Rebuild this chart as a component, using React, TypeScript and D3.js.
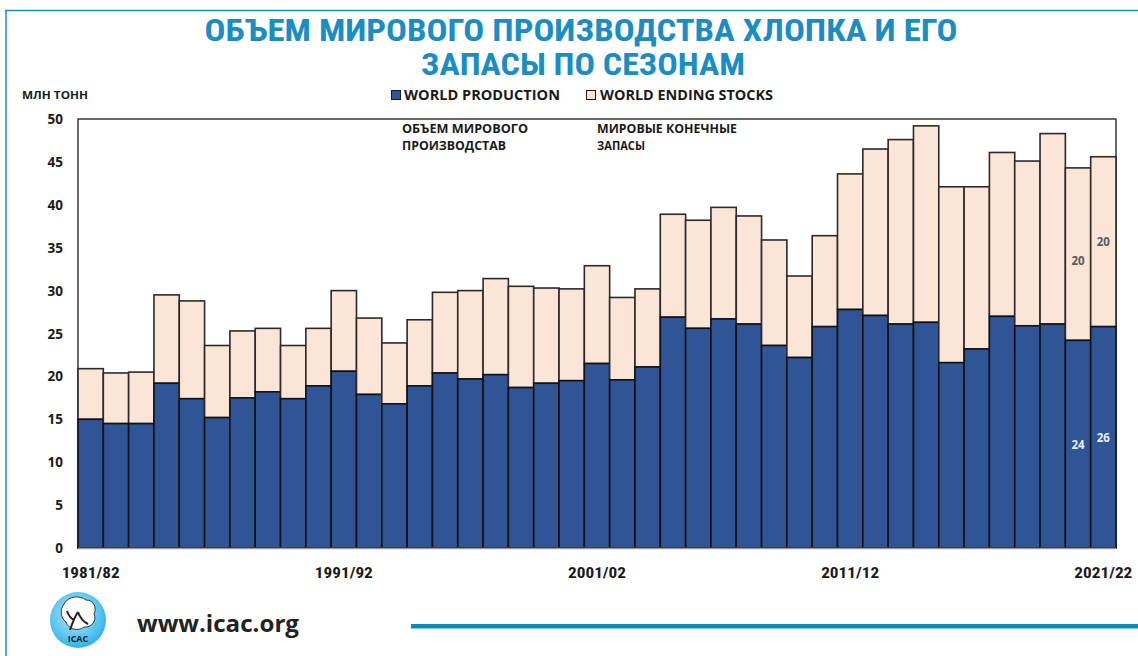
import React from "react";
import * as d3 from "d3";

const seasons: string[] = [
  "1981/82","1982/83","1983/84","1984/85","1985/86","1986/87","1987/88","1988/89","1989/90","1990/91",
  "1991/92","1992/93","1993/94","1994/95","1995/96","1996/97","1997/98","1998/99","1999/00","2000/01",
  "2001/02","2002/03","2003/04","2004/05","2005/06","2006/07","2007/08","2008/09","2009/10","2010/11",
  "2011/12","2012/13","2013/14","2014/15","2015/16","2016/17","2017/18","2018/19","2019/20","2020/21",
  "2021/22",
];

const production: number[] = [
  15.0, 14.5, 14.5, 19.2, 17.4, 15.2, 17.5, 18.2, 17.4, 18.9,
  20.6, 17.9, 16.8, 18.9, 20.4, 19.7, 20.2, 18.7, 19.2, 19.5,
  21.5, 19.6, 21.1, 26.9, 25.6, 26.7, 26.1, 23.6, 22.2, 25.8,
  27.8, 27.1, 26.1, 26.3, 21.6, 23.2, 27.0, 25.9, 26.1, 24.2,
  25.8,
];

const stocks: number[] = [
  5.9, 5.9, 6.0, 10.3, 11.4, 8.4, 7.8, 7.4, 6.2, 6.7,
  9.4, 8.9, 7.1, 7.7, 9.4, 10.3, 11.2, 11.8, 11.1, 10.7,
  11.4, 9.6, 9.1, 12.0, 12.6, 13.0, 12.6, 12.3, 9.5, 10.6,
  15.8, 19.4, 21.5, 22.9, 20.5, 18.9, 19.1, 19.2, 22.2, 20.1,
  19.8,
];

const yTicks: number[] = [0, 5, 10, 15, 20, 25, 30, 35, 40, 45, 50];
const xTickLabels: string[] = ["1981/82", "1991/92", "2001/02", "2011/12", "2021/22"];
const labelledSeasons: string[] = ["2020/21", "2021/22"];
const prodLabels: string[] = ["24", "26"];
const stockLabels: string[] = ["20", "20"];

const titleLines: string[] = ["ОБЪЕМ МИРОВОГО ПРОИЗВОДСТВА ХЛОПКА И ЕГО", "ЗАПАСЫ ПО СЕЗОНАМ"];
const legendLabels: string[] = ["WORLD PRODUCTION", "WORLD ENDING STOCKS"];

const W = 1138;
const H = 656;
const PL = 78, PR = 1116, PT = 119, PB = 548;

const PROD_COLOR = "#2F5597";
const STOCK_COLOR = "#FBE5D6";
const BLUE = "#1A8DC4";
const TXT = "#1a1a1a";
const FONT = "'Open Sans', 'Noto Sans', sans-serif";
const NARROW = "'Liberation Sans Narrow', 'Roboto Condensed', 'Open Sans', sans-serif";

export default function App() {
  const x = d3.scaleBand<string>().domain(seasons).range([PL, PR]).paddingInner(0).paddingOuter(0);
  const y = d3.scaleLinear().domain([0, 50]).range([PB, PT]);
  const bw = x.bandwidth();

  return (
    <svg width={W} height={H} style={{ display: "block", position: "absolute", left: 0, top: 0 }}>
      <defs>
        <radialGradient id="logoGrad" cx="45%" cy="40%" r="60%">
          <stop offset="0%" stopColor="#BFE9FB" />
          <stop offset="70%" stopColor="#5CC6F0" />
          <stop offset="100%" stopColor="#33B2E6" />
        </radialGradient>
      </defs>
      <rect x={0} y={0} width={W} height={H} fill="#fff" />
      {/* frame */}
      <line x1={5} y1={10.5} x2={W} y2={10.5} stroke={BLUE} strokeWidth={1.5} />
      <line x1={6} y1={10} x2={6} y2={H} stroke={BLUE} strokeWidth={1.5} />

      {/* title */}
      <text x={581} y={41} textAnchor="middle" fontFamily={NARROW} fontWeight="bold" fontSize={31} fill={BLUE}
        textLength={753} lengthAdjust="spacingAndGlyphs">{titleLines[0]}</text>
      <text x={583} y={75} textAnchor="middle" fontFamily={NARROW} fontWeight="bold" fontSize={31} fill={BLUE}
        textLength={324} lengthAdjust="spacingAndGlyphs">{titleLines[1]}</text>

      {/* unit */}
      <text x={22} y={99} fontFamily={FONT} fontWeight="bold" fontSize={11} fill={TXT}
        textLength={66} lengthAdjust="spacingAndGlyphs">МЛН ТОНН</text>

      {/* legend */}
      <rect x={391.5} y={90.5} width={9} height={9} fill={PROD_COLOR} stroke={TXT} strokeWidth={1} />
      <text x={404} y={100} fontFamily={FONT} fontWeight="bold" fontSize={14} fill={TXT}
        textLength={156} lengthAdjust="spacingAndGlyphs">{legendLabels[0]}</text>
      <rect x={586.5} y={90.5} width={9} height={9} fill={STOCK_COLOR} stroke={TXT} strokeWidth={1} />
      <text x={600} y={100} fontFamily={FONT} fontWeight="bold" fontSize={14} fill={TXT}
        textLength={173} lengthAdjust="spacingAndGlyphs">{legendLabels[1]}</text>

      {/* plot border */}
      <rect x={PL} y={PT} width={PR - PL} height={PB - PT} fill="none" stroke="#3a3a3a" strokeWidth={1.5} />

      {/* annotations */}
      <text fontFamily={FONT} fontWeight="bold" fontSize={11.5} fill={TXT}>
        <tspan x={402} y={133} textLength={126} lengthAdjust="spacingAndGlyphs">ОБЪЕМ МИРОВОГО</tspan>
        <tspan x={402} y={150} textLength={104} lengthAdjust="spacingAndGlyphs">ПРОИЗВОДСТАВ</tspan>
      </text>
      <text fontFamily={FONT} fontWeight="bold" fontSize={11.5} fill={TXT}>
        <tspan x={597} y={133} textLength={140} lengthAdjust="spacingAndGlyphs">МИРОВЫЕ КОНЕЧНЫЕ</tspan>
        <tspan x={597} y={150} textLength={48} lengthAdjust="spacingAndGlyphs">ЗАПАСЫ</tspan>
      </text>

      {/* bars */}
      {seasons.map((s, i) => {
        const x0 = x(s) as number;
        const p = production[i];
        const st = stocks[i];
        return (
          <g key={s}>
            <rect x={x0} y={y(p + st)} width={bw} height={y(p) - y(p + st)} fill={STOCK_COLOR} stroke="#2a2a2a" strokeWidth={1.6} />
            <rect x={x0} y={y(p)} width={bw} height={y(0) - y(p)} fill={PROD_COLOR} stroke="#111" strokeWidth={1.6} />
          </g>
        );
      })}

      {/* value labels */}
      {labelledSeasons.map((s, k) => {
        const i = seasons.indexOf(s);
        const cx = (x(s) as number) + bw / 2;
        const p = production[i];
        const st = stocks[i];
        return (
          <g key={"lab" + s}>
            <text x={cx} y={y(p + st) + (k === 0 ? 97 : 89)} textAnchor="middle" fontFamily={FONT} fontWeight="bold" fontSize={11.5} fill="#595959">{stockLabels[k]}</text>
            <text x={cx} y={k === 0 ? 449 : 442} textAnchor="middle" fontFamily={FONT} fontWeight="bold" fontSize={11.5} fill="#E8EEF8">{prodLabels[k]}</text>
          </g>
        );
      })}

      {/* x axis baseline */}
      <line x1={PL} y1={PB + 0.5} x2={PR} y2={PB + 0.5} stroke="#9a9a9a" strokeWidth={1.5} />

      {/* y ticks */}
      {yTicks.map((t) => (
        <text key={"y" + t} x={63} y={y(t) + 5} textAnchor="end" fontFamily={FONT} fontWeight="bold" fontSize={13.5} fill={TXT}>{t}</text>
      ))}

      {/* x ticks */}
      {xTickLabels.map((s) => (
        <text key={"x" + s} x={(x(s) as number) + bw / 2} y={578} textAnchor="middle" fontFamily={NARROW} fontWeight="bold" fontSize={14} fill={TXT}
          textLength={58} lengthAdjust="spacingAndGlyphs">{s}</text>
      ))}

      {/* logo */}
      <circle cx={78} cy={620} r={28} fill="url(#logoGrad)" />
      <path d="M64,604 C68,596 80,595 86,600 C94,600 97,608 94,614 C97,620 92,628 84,627 C78,632 68,629 66,622 C60,618 60,609 64,604 Z" fill="#ffffff" stroke="#333" strokeWidth={1} />
      <path d="M70,630 C72,624 74,618 78,612 M78,612 C80,618 84,622 88,624 M74,620 C70,618 68,614 67,611" stroke="#222" strokeWidth={2} fill="none" />
      <text x={78} y={642} textAnchor="middle" fontFamily={FONT} fontWeight="bold" fontSize={9} fill="#123">ICAC</text>
      <text x={137} y={632} fontFamily={FONT} fontWeight="bold" fontSize={24} fill="#222"
        textLength={162} lengthAdjust="spacingAndGlyphs">www.icac.org</text>

      {/* bottom blue line */}
      <rect x={411} y={624} width={W - 411} height={4.5} fill="#0E8AB8" />
    </svg>
  );
}
